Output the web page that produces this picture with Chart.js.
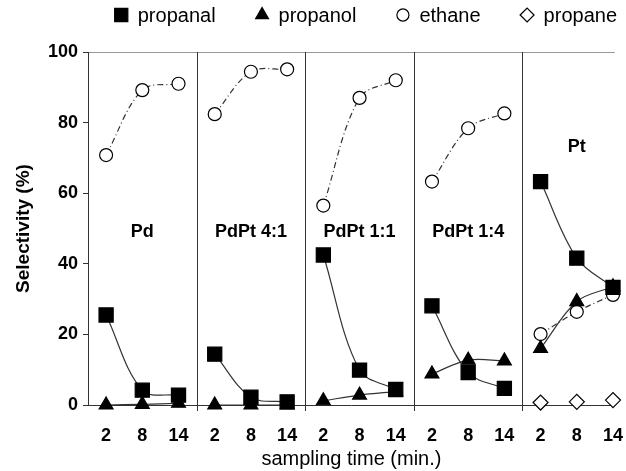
<!DOCTYPE html>
<html>
<head>
<meta charset="utf-8">
<title>Selectivity vs sampling time</title>
<script src="https://cdn.jsdelivr.net/npm/chart.js@4.4.1/dist/chart.umd.min.js"></script>
<style>
  html, body { margin: 0; padding: 0; background: #fff; }
</style>
</head>
<body>
<canvas id="chart" width="626" height="471"></canvas>
<script>
const panels = ["Pd", "PdPt 4:1", "PdPt 1:1", "PdPt 1:4", "Pt"];
const times = ["2", "8", "14"];
const yTicks = [0, 20, 40, 60, 80, 100];

// selectivity (%), 3 sampling times per panel, panels in order above
const propanal = [25.5, 4.2, 2.8, 14.4, 2.2, 0.9, 42.5, 9.9, 4.4, 28.1, 9.2, 4.7, 63.3, 41.6, 33.3];
const propanol = [0, 0.2, 0.5, 0, 0, 0, 1.2, 2.8, 3.8, 8.8, 12.7, 12.5, 16, 29.3, 33.5];
const ethane = [70.8, 89.2, 91, 82.4, 94.4, 95.1, 56.5, 87, 92, 63.3, 78.4, 82.6, 20.1, 26.4, 31.2];
const propane = [null, null, null, null, null, null, null, null, null, null, null, null, 0.7, 0.9, 1.4];

// where the panel names sit (y value)
const panelLabelY = [49, 49, 49, 49, 73];

const FONT = "'Liberation Sans', Arial, sans-serif";
const INK = "#000";
const LINE = "#333";

const series = [
  { label: "propanal", values: propanal, pointStyle: "rect", radius: 10, bg: "#000", dash: [], showLine: true },
  { label: "propanol", values: propanol, pointStyle: "triangle", radius: 8, bg: "#000", dash: [], showLine: true },
  { label: "ethane", values: ethane, pointStyle: "circle", radius: 6.5, bg: "#fff", dash: [6, 3, 1, 3], showLine: true },
  { label: "propane", values: propane, pointStyle: "rectRot", radius: 7.5, bg: "#fff", dash: [], showLine: false },
];

// one dataset per series per panel so every panel gets its own curve
const datasets = [];
series.forEach((s) => {
  let first = true;
  panels.forEach((p, pi) => {
    const pts = times.map((t, k) => ({ x: pi * 3 + k, y: s.values[pi * 3 + k] }));
    if (pts.every((pt) => pt.y === null)) return;
    datasets.push({
      label: s.label,
      legendEntry: first,
      data: pts,
      showLine: s.showLine,
      borderColor: LINE,
      borderWidth: 1.2,
      borderDash: s.dash,
      tension: 0.35,
      pointStyle: s.pointStyle,
      pointRadius: s.radius,
      pointBackgroundColor: s.bg,
      pointBorderColor: "#000",
      pointBorderWidth: 1.2,
      clip: false,
    });
    first = false;
  });
});

// panel dividers + panel names
const panelPlugin = {
  id: "panels",
  beforeDatasetsDraw(chart) {
    const { ctx } = chart;
    const x = chart.scales.x, y = chart.scales.y;
    ctx.save();
    ctx.strokeStyle = LINE;
    ctx.lineWidth = 1;
    for (let pi = 1; pi < panels.length; pi++) {
      const px = Math.round(x.getPixelForValue(pi * 3 - 0.5)) + 0.5;
      ctx.beginPath();
      ctx.moveTo(px, y.getPixelForValue(100));
      ctx.lineTo(px, y.getPixelForValue(0) + 6);
      ctx.stroke();
    }
    ctx.font = "bold 18px " + FONT;
    ctx.fillStyle = INK;
    ctx.textAlign = "center";
    ctx.textBaseline = "middle";
    panels.forEach((p, pi) => {
      ctx.fillText(p, x.getPixelForValue(pi * 3 + 1), y.getPixelForValue(panelLabelY[pi]));
    });
    ctx.restore();
  },
};

// legend row with the same markers as the datasets
const legendPlugin = {
  id: "markerLegend",
  afterDraw(chart) {
    const ctx = chart.ctx;
    const items = chart.data.datasets.filter((d) => d.legendEntry);
    const box = 13, gapText = 10, gapItem = 40, right = 617, cy = 15;
    ctx.save();
    ctx.font = "20px " + FONT;
    const widths = items.map((d) => box + gapText + ctx.measureText(d.label).width);
    let x = right - widths.reduce((a, b) => a + b, 0) - gapItem * (items.length - 1);
    items.forEach((d, i) => {
      ctx.fillStyle = d.pointBackgroundColor;
      ctx.strokeStyle = d.pointBorderColor;
      ctx.lineWidth = d.pointBorderWidth;
      ctx.setLineDash([]);
      Chart.helpers.drawPoint(ctx, { pointStyle: d.pointStyle, radius: d.pointRadius * 0.93, borderWidth: d.pointBorderWidth, rotation: 0 }, x + box / 2, cy);
      ctx.fillStyle = INK;
      ctx.textAlign = "left";
      ctx.textBaseline = "middle";
      ctx.fillText(d.label, x + box + gapText, cy + 1);
      x += widths[i] + gapItem;
    });
    ctx.restore();
  },
};

new Chart(document.getElementById("chart"), {
  type: "line",
  data: { datasets },
  options: {
    responsive: false,
    animation: false,
    layout: { padding: { top: 52, right: 0, left: 0, bottom: 0 } },
    plugins: {
      legend: { display: false },
      tooltip: { enabled: false },
    },
    scales: {
      x: {
        type: "linear",
        min: -0.5,
        max: 14.05,
        afterBuildTicks: (s) => { s.ticks = propanal.map((_, i) => ({ value: i })); },
        afterFit: (s) => {
          s.height = 66;
          s.paddingLeft = 0;
          s.paddingRight = 0;
        },
        grid: { display: false, drawTicks: false },
        border: { display: true, color: LINE, width: 1 },
        ticks: {
          autoSkip: false,
          maxRotation: 0,
          padding: 20,
          color: INK,
          font: { family: FONT, size: 18, weight: "bold" },
          callback: (v) => times[v % 3],
        },
        title: {
          display: true,
          text: "sampling time (min.)",
          color: INK,
          font: { family: FONT, size: 20 },
          padding: { top: 0, bottom: 0 },
        },
      },
      y: {
        min: 0,
        max: 100,
        afterBuildTicks: (s) => { s.ticks = yTicks.map((v) => ({ value: v })); },
        afterFit: (s) => { s.width = 88; },
        grid: {
          color: (c) => (c.tick && c.tick.value === 100 ? "#999" : "rgba(0,0,0,0)"),
          tickColor: LINE,
          tickLength: 5,
        },
        border: { color: LINE, width: 1 },
        ticks: {
          padding: 5,
          color: INK,
          font: { family: FONT, size: 18, weight: "bold" },
        },
        title: {
          display: true,
          text: "Selectivity (%)",
          color: INK,
          font: { family: FONT, size: 19, weight: "bold" },
          padding: { top: 12, bottom: 0 },
        },
      },
    },
  },
  plugins: [panelPlugin, legendPlugin],
});
</script>
</body>
</html>
